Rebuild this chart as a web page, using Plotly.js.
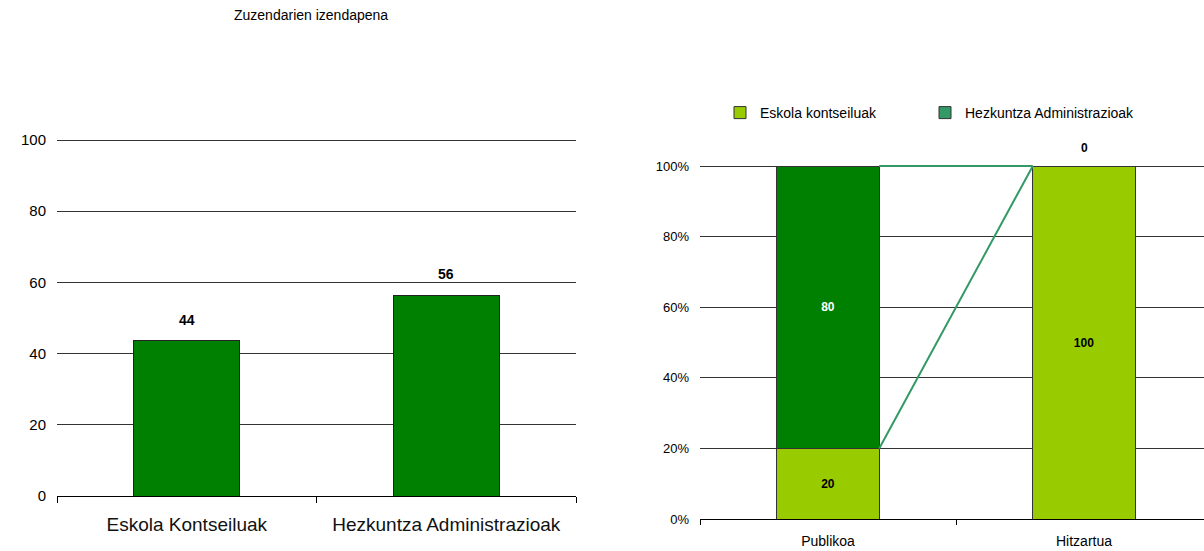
<!DOCTYPE html>
<html><head><meta charset="utf-8">
<script src="https://cdn.plot.ly/plotly-3.0.1.min.js"></script>
<style>html,body{margin:0;padding:0;background:#fff}#chart{width:1204px;height:551px}</style>
</head><body><div id="chart"></div>
<script>
const chartTitle = 'Zuzendarien izendapena';
const leftCategories = ['Eskola Kontseiluak', 'Hezkuntza Administrazioak'];
const leftValues = [43.6, 56.4];
const rightCategories = ['Publikoa', 'Hitzartua'];
const seriesNames = ['Eskola kontseiluak', 'Hezkuntza Administrazioak'];
const eskolaValues = [20, 100];
const hezkuntzaValues = [80, 0];
const leftTicks = [0, 20, 40, 60, 80, 100];
const rightTicks = [0, 20, 40, 60, 80, 100];

const W = 1204, H = 551;
const darkGreen = '#008000', lightGreen = '#99CC00', lineGreen = '#339966';
const rightBarWidth = 0.4;
const font = 'Liberation Sans, Arial, sans-serif';

const cumEskola = eskolaValues.slice();
const cumTotal = eskolaValues.map((v, i) => v + hezkuntzaValues[i]);

const traces = [
  {
    type: 'bar', x: leftCategories, y: leftValues, xaxis: 'x', yaxis: 'y',
    width: 0.41, marker: {color: darkGreen, line: {color: '#222', width: 1}},
    showlegend: false, hoverinfo: 'none'
  },
  {
    type: 'bar', name: seriesNames[0], x: rightCategories, y: eskolaValues, xaxis: 'x2', yaxis: 'y2',
    width: rightBarWidth, marker: {color: lightGreen, line: {color: '#333', width: 1}},
    text: eskolaValues.map(String), textposition: 'inside', insidetextanchor: 'middle',
    textfont: {size: 12, color: '#000', weight: 'bold'}, hoverinfo: 'none', showlegend: false
  },
  {
    type: 'bar', name: seriesNames[1], x: rightCategories, y: hezkuntzaValues, xaxis: 'x2', yaxis: 'y2',
    width: rightBarWidth, marker: {color: darkGreen, line: {color: '#333', width: 1}},
    text: hezkuntzaValues.map(v => v > 0 ? String(v) : ''), textposition: 'inside',
    insidetextanchor: 'middle',
    textfont: {size: 12, color: '#fff', weight: 'bold'}, hoverinfo: 'none', showlegend: false
  },
  {
    type: 'scatter', mode: 'lines', x: [0 + rightBarWidth / 2, 1 - rightBarWidth / 2], y: cumEskola,
    xaxis: 'x3', yaxis: 'y2', line: {color: lineGreen, width: 2}, showlegend: false, hoverinfo: 'none', cliponaxis: false
  },
  {
    type: 'scatter', mode: 'lines', x: [0 + rightBarWidth / 2, 1 - rightBarWidth / 2], y: cumTotal,
    xaxis: 'x3', yaxis: 'y2', line: {color: lineGreen, width: 2}, showlegend: false, hoverinfo: 'none', cliponaxis: false
  },
  {
    type: 'bar', name: seriesNames[0], x: [null], y: [null], xaxis: 'x3', yaxis: 'y2', legend: 'legend',
    marker: {color: lightGreen, line: {color: '#333', width: 1}}, hoverinfo: 'none', showlegend: true
  },
  {
    type: 'bar', name: seriesNames[1], x: [null], y: [null], xaxis: 'x3', yaxis: 'y2', legend: 'legend2',
    marker: {color: lineGreen, line: {color: '#333', width: 1}}, hoverinfo: 'none', showlegend: true
  }
];

const leftAnn = leftCategories.map((c, i) => ({
  xref: 'x', yref: 'y', x: c, y: leftValues[i], text: '<b>' + Math.round(leftValues[i]) + '</b>',
  showarrow: false, yshift: 21, yanchor: 'middle', font: {size: 14, color: '#000'}
}));
const rightAnn = rightCategories.map((c, i) => hezkuntzaValues[i] === 0 ? ({
  xref: 'x2', yref: 'y2', x: c, y: cumTotal[i], text: '<b>' + hezkuntzaValues[i] + '</b>',
  showarrow: false, yshift: 18, yanchor: 'middle', font: {size: 12, color: '#000'}
}) : null).filter(a => a);

const rightRange = [-0.5, 1.5 - 8 / 256];
const yTopL = 140 - 3.56, yTopR = 166 - 3.53;
const legendBase = {
  orientation: 'h', y: 1 - 97 / H, xanchor: 'left', yanchor: 'top',
  font: {size: 14, color: '#000'}, bgcolor: 'rgba(0,0,0,0)'
};

const layout = {
  width: W, height: H, margin: {l: 0, r: 0, t: 0, b: 0},
  paper_bgcolor: '#fff', plot_bgcolor: 'rgba(0,0,0,0)',
  font: {family: font, color: '#000'},
  barmode: 'stack', showlegend: true,
  xaxis: {
    domain: [57 / W, 576 / W], anchor: 'y', type: 'category', range: [-0.5, 1.5],
    showline: true, linecolor: '#000', linewidth: 1, ticks: 'outside', tickson: 'boundaries',
    ticklen: 6, tickcolor: '#000', showgrid: false, zeroline: false,
    tickfont: {size: 19, color: '#111'}, ticklabelstandoff: 11, fixedrange: true
  },
  yaxis: {
    domain: [(H - 496) / H, (H - yTopL) / H], anchor: 'x', range: [0, 101], tickvals: leftTicks,
    showgrid: true, gridcolor: '#333', gridwidth: 1, zeroline: false, showline: false, ticks: '',
    tickfont: {size: 15, color: '#000'}, ticklabelstandoff: 10, fixedrange: true
  },
  xaxis2: {
    domain: [700 / W, 1], anchor: 'y2', type: 'category', range: rightRange,
    showline: true, linecolor: '#000', linewidth: 1, ticks: 'outside', tickson: 'boundaries',
    ticklen: 5, tickcolor: '#000', showgrid: false, zeroline: false,
    tickfont: {size: 14, color: '#000'}, ticklabelstandoff: 9, fixedrange: true
  },
  xaxis3: {
    domain: [700 / W, 1], anchor: 'y2', overlaying: 'x2', range: rightRange, visible: false, fixedrange: true
  },
  yaxis2: {
    domain: [(H - 519) / H, (H - yTopR) / H], anchor: 'x2', range: [0, 101], tickvals: rightTicks,
    ticktext: rightTicks.map(v => v + '%'), showgrid: true, gridcolor: '#333', gridwidth: 1,
    zeroline: false, showline: false,
    ticks: '', tickfont: {size: 13, color: '#000'}, ticklabelstandoff: 10, fixedrange: true
  },
  legend: Object.assign({}, legendBase, {x: 720 / W}),
  legend2: Object.assign({}, legendBase, {x: 925 / W}),
  annotations: [{
    text: chartTitle, xref: 'paper', yref: 'paper', x: 311 / W, y: 1 - 15 / H,
    xanchor: 'center', yanchor: 'middle', showarrow: false, font: {size: 14, color: '#000'}
  }].concat(leftAnn, rightAnn)
};

Plotly.newPlot('chart', traces, layout, {displayModeBar: false, staticPlot: true});
</script></body></html>
